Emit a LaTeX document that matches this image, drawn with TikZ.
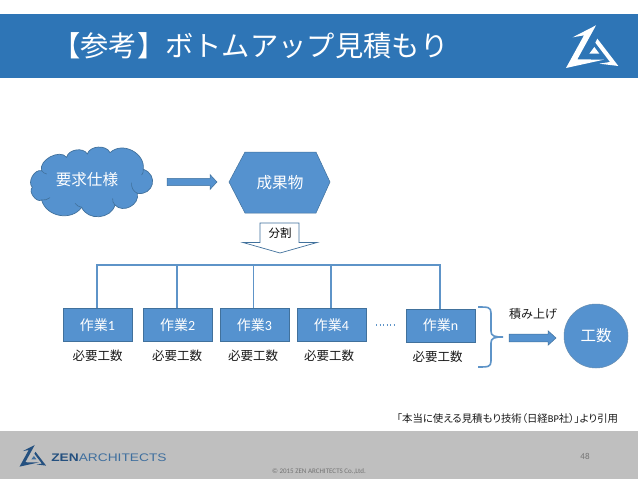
\documentclass[tikz,border=0pt]{standalone}
\usepackage{fontspec}
\setmainfont{Noto Sans CJK JP}
\newfontfamily\latinf{Carlito}
\newfontfamily\logof{Liberation Sans}
\definecolor{barblue}{HTML}{2E75B6}
\definecolor{shapeblue}{HTML}{5592CF}
\definecolor{edgeblue}{HTML}{41719C}
\definecolor{linkblue}{HTML}{5E94C8}
\definecolor{footgrey}{HTML}{BFBFBF}
\definecolor{logoblue}{HTML}{24507F}
\definecolor{logolight}{HTML}{3F6F9E}
\newcommand{\zenlogo}[3]{%
  \fill[#1] (38,46) -- (108,10) -- (52,112) -- (132,113) -- (18,138) -- (72,40) -- cycle;
  \fill[#1] (112,50) -- (175,132) -- (118,125) -- (150,120) -- (106,62) -- cycle;
  \fill[#2] (103,75) -- (118,95) -- (88,95) -- cycle;
}
\tikzset{
  x=1pt,y=-1pt,
  txt/.style={inner sep=0pt,font=\fontsize{#1}{#1}\selectfont},
  txt/.default=12,
  taskbox/.style={draw=edgeblue,line width=.8pt,fill=shapeblue,text=white,minimum width=69pt,minimum height=33pt,inner sep=0pt,font=\fontsize{14}{14}\selectfont},
  needlabel/.style={inner sep=0pt,font=\fontsize{12.5}{12.5}\selectfont,text=black!90},
  blockarrow/.style={draw=edgeblue,line width=.5pt,fill=shapeblue},
  link/.style={draw=linkblue,line width=#1},
  link/.default=2pt
}
\begin{document}
\begin{tikzpicture}
\useasboundingbox (0,0) rectangle (638,479);
\fill[white] (0,0) rectangle (638,479);
% title bar
\fill[barblue] (0,14) rectangle (638,78);
\node[txt=28.3,text=white,anchor=west] (title) at (52,45.5) {【参考】ボトムアップ見積もり};
% white logo
\begin{scope}[shift={(560,22)},x=.3333pt,y=-.3333pt]
  \zenlogo{white}{white}{}
\end{scope}
% cloud
\begin{scope}[shift={(0,130)},x=.3333pt,y=-.3333pt]
  \filldraw[draw=edgeblue,line width=.7pt,fill=shapeblue]
    (97,172) to[bend left=75] (125,122)
    to[bend left=80] (200,82)
    to[bend left=70] (262,72)
    to[bend left=70] (330,68)
    to[bend left=70,looseness=1.15] (430,118)
    to[bend left=85,looseness=1.7] (412,190)
    to[bend left=75,looseness=1.2] (345,225)
    to[bend left=70,looseness=1.15] (245,232)
    to[bend left=65,looseness=1.1] (125,210)
    to[bend left=85] cycle;
  \draw[edgeblue,line width=.6pt] (125,122) to[bend right=20] (140,132);
  \draw[edgeblue,line width=.6pt] (430,118) to[bend left=20] (425,135);
  \draw[edgeblue,line width=.6pt] (412,190) to[bend left=35] (395,158);
  \draw[edgeblue,line width=.6pt] (345,225) to[bend left=25] (338,205);
  \draw[edgeblue,line width=.6pt] (245,232) to[bend left=20] (225,220);
  \draw[edgeblue,line width=.6pt] (125,210) to[bend right=20] (150,203);
\end{scope}
\node[txt=15.6,text=white] (spec) at (87,180) {要求仕様};
% hexagon
\fill[shapeblue,draw=edgeblue,line width=.5pt] (245,152) -- (316,152) -- (330,182) -- (316,213) -- (245,213) -- (229,182) -- cycle;
\node[txt=15.6,text=white] (product) at (280,183) {成果物};
% arrow spec -> product
\filldraw[blockarrow] (167,178.3) -- (210,178.3) -- (210,174.5) -- (217,182) -- (210,189.5) -- (210,185.7) -- (167,185.7) -- cycle;
% split arrow
\draw[edgeblue,fill=white,line width=.7pt] (260,223) -- (299,223) -- (299,242.5) -- (317,242.5) -- (280,253) -- (243,242.5) -- (260,242.5) -- cycle;
\node[txt=11.5,text=black] (split) at (280,233.5) {分割};
% tasks
\node[taskbox] (t1) at (97.5,325) {作業{\latinf 1}};
\node[taskbox] (t2) at (177.7,325) {作業{\latinf 2}};
\node[taskbox] (t3) at (254.5,325) {作業{\latinf 3}};
\node[taskbox] (t4) at (331.5,325) {作業{\latinf 4}};
\node[taskbox] (tn) at (440.5,325.5) {作業{\latinf n}};
% tree
\coordinate (h1) at (97,265);
\coordinate (h2) at (177,265);
\coordinate (h3) at (253.5,265);
\coordinate (h4) at (331,265);
\coordinate (hn) at (440,265);
\draw[link] (t1.north -| h1) -- (h1) -- (hn) -- (tn.north -| hn);
\draw[link] (t2.north -| h2) -- (h2);
\draw[link=1.1pt] (t3.north -| h3) -- (h3);
\draw[link=1.8pt] (t4.north -| h4) -- (h4);
% need labels
\node[needlabel] (n1) at (97.5,356) {必要工数};
\node[needlabel] (n2) at (177,356) {必要工数};
\node[needlabel] (n3) at (253,356) {必要工数};
\node[needlabel] (n4) at (329,356) {必要工数};
\node[needlabel] (nn) at (437.5,357) {必要工数};
% dots
\draw[linkblue,line width=1.1pt,dash pattern=on 1.2pt off 2.3pt] (376,325) -- (394,325);
% brace
\draw[link=1.6pt] (478,307) .. controls (488,307) and (491,307) .. (491,313) -- (491,331) .. controls (491,336) and (494,337) .. (503,337) .. controls (494,337) and (491,338) .. (491,343) -- (491,361) .. controls (491,367) and (488,367) .. (478,367);
% stack arrow
\filldraw[blockarrow] (509,334.2) -- (548,334.2) -- (548,330.7) -- (556,338) -- (548,345.3) -- (548,341.8) -- (509,341.8) -- cycle;
\node[inner sep=0pt,font=\fontsize{12}{12}\selectfont,text=black!90] (stack) at (533,314) {積み上げ};
% circle
\node[circle,draw=edgeblue!80,line width=.5pt,fill=shapeblue,text=white,minimum size=64pt,inner sep=0pt,font=\fontsize{15.5}{15.5}\selectfont] (effort) at (596,336) {工数};
% citation
\node[inner sep=0pt,text=black!90,font=\addfontfeatures{RawFeature=+palt}\fontsize{10.4}{10.4}\selectfont] (cite) at (507.5,419) {「本当に使える見積もり技術（日経{\latinf BP}社）」より引用};
% footer
\fill[footgrey] (0,431) rectangle (638,479);
\begin{scope}[shift={(16.5,443.3)},x=.169pt,y=-.169pt]
  \zenlogo{logoblue}{logolight}{}
\end{scope}
\node[inner sep=0pt,anchor=west,xscale=1.25,text=logolight,font=\logof\fontsize{11}{11}\selectfont] (logotext) at (51,457.5) {\textbf{\textcolor{logoblue}{ZEN}}ARCHITECTS};
\node[txt=9,text=black!55] (page) at (585,456) {{\latinf 48}};
\node[inner sep=0pt,text=black!55,font=\latinf\fontsize{7}{7}\selectfont] (copy) at (319,471.5) {© 2015 ZEN ARCHITECTS Co.,Ltd.};
\end{tikzpicture}
\end{document}
